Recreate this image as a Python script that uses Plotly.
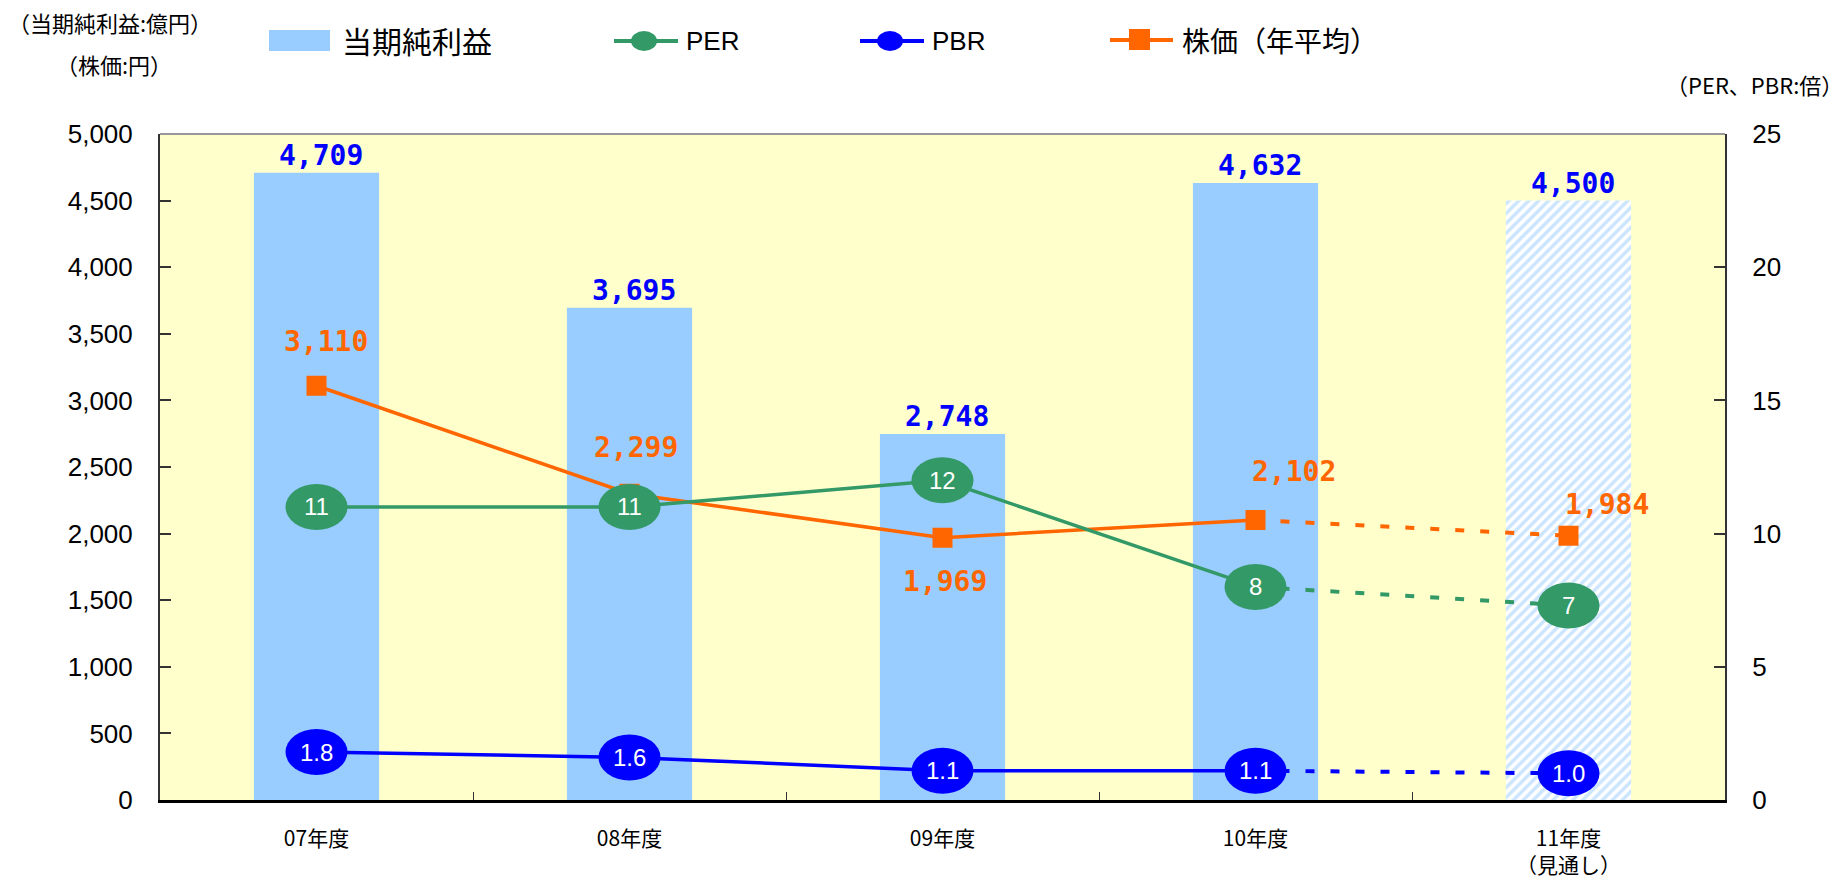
import plotly.graph_objects as go

# ---- data -------------------------------------------------------------
years = ["07年度", "08年度", "09年度", "10年度", "11年度<br>（見通し）"]
net_income = [4709, 3695, 2748, 4632, 4500]      # 当期純利益 (億円)
per = [11, 11, 12, 8, 7.3]                       # PER (倍)
pbr = [1.8, 1.6, 1.1, 1.1, 1.0]                  # PBR (倍)
stock_price = [3110, 2299, 1969, 2102, 1984]     # 株価 年平均 (円)
is_forecast = [False, False, False, False, True]

# ---- styling ----------------------------------------------------------
C_BAR = "#99CCFF"
C_PER = "#339966"
C_PBR = "#0000FF"
C_STOCK = "#FF6600"
C_BG = "#FFFFCC"
CJK = "Noto Sans CJK JP, sans-serif"
SANS = "Liberation Sans, Arial, sans-serif"
MONO = "DejaVu Sans Mono, monospace"

W, H = 1845, 882
ML, MR, MT, MB = 160, 120, 134, 82
PW, PH = W - ML - MR, H - MT - MB

# stock-price label offsets (px) relative to each marker
stock_label_shift = [(9, 44), (6, 46), (2, -44), (38, 49), (38, 31)]


def px(x):
    return (x - ML) / PW


def py(y):
    return (H - MB - y) / PH


last_actual = is_forecast.index(True) - 1
solid = slice(0, last_actual + 1)
dashed = slice(last_actual, len(years))
DASH = "9px,16px"

fig = go.Figure()

fig.add_trace(go.Bar(
    x=years, y=net_income, width=0.4, yaxis="y",
    marker=dict(
        color=C_BAR, line=dict(width=0),
        pattern=dict(shape=["/" if f else "" for f in is_forecast],
                     fgcolor=C_BAR, bgcolor="white", size=7, solidity=0.5),
    ),
    showlegend=False, hoverinfo="skip",
))

for vals, color, axis in [(per, C_PER, "y2"), (pbr, C_PBR, "y2")]:
    fig.add_trace(go.Scatter(x=years[solid], y=vals[solid], yaxis=axis, mode="lines",
                             line=dict(color=color, width=3.5),
                             showlegend=False, hoverinfo="skip"))
    fig.add_trace(go.Scatter(x=years[dashed], y=vals[dashed], yaxis=axis, mode="lines",
                             line=dict(color=color, width=4, dash=DASH),
                             showlegend=False, hoverinfo="skip"))

fig.add_trace(go.Scatter(x=years[solid], y=stock_price[solid], mode="lines",
                         line=dict(color=C_STOCK, width=3.5),
                         showlegend=False, hoverinfo="skip"))
fig.add_trace(go.Scatter(x=years[dashed], y=stock_price[dashed], mode="lines",
                         line=dict(color=C_STOCK, width=4, dash=DASH),
                         showlegend=False, hoverinfo="skip"))
fig.add_trace(go.Scatter(x=years, y=stock_price, mode="markers",
                         marker=dict(symbol="square", size=20, color=C_STOCK,
                                     line=dict(width=0)),
                         showlegend=False, hoverinfo="skip"))

shapes = []
annotations = []

# oval data labels for PER / PBR
for vals, color, fmt in [(per, C_PER, "{:.0f}"), (pbr, C_PBR, "{:.1f}")]:
    for i, v in enumerate(vals):
        shapes.append(dict(type="circle", xref="x", yref="y2",
                           xsizemode="pixel", ysizemode="pixel",
                           xanchor=i, yanchor=v, x0=-31, x1=31, y0=-23, y1=23,
                           fillcolor=color, line=dict(width=0), layer="above"))
        annotations.append(dict(x=years[i], y=v, xref="x", yref="y2",
                                text=fmt.format(v), showarrow=False,
                                font=dict(family=SANS, size=24, color="white")))

# net income labels above the bars
for i, v in enumerate(net_income):
    annotations.append(dict(x=years[i], y=v, xref="x", yref="y",
                            text=f"{v:,}", showarrow=False, yanchor="bottom",
                            xshift=4, yshift=-1,
                            font=dict(family=MONO, size=28, color=C_PBR, weight="bold")))

# stock price labels
for i, v in enumerate(stock_price):
    dx, dy = stock_label_shift[i]
    annotations.append(dict(x=years[i], y=v, xref="x", yref="y",
                            text=f"{v:,}", showarrow=False,
                            xshift=dx, yshift=dy,
                            font=dict(family=MONO, size=28, color=C_STOCK, weight="bold")))

# unit captions
annotations += [
    dict(x=px(6), y=py(22), xref="paper", yref="paper", xanchor="left", yanchor="middle",
         text="（当期純利益:億円）", showarrow=False, font=dict(family=CJK, size=22, color="black")),
    dict(x=px(54), y=py(64), xref="paper", yref="paper", xanchor="left", yanchor="middle",
         text="（株価:円）", showarrow=False, font=dict(family=CJK, size=22, color="black")),
    dict(x=px(1845), y=py(84), xref="paper", yref="paper", xanchor="right", yanchor="middle",
         text="（PER、PBR:倍）", showarrow=False, font=dict(family=CJK, size=22, color="black")),
]

# legend (drawn by hand)
LY = 40
shapes.append(dict(type="rect", xref="paper", yref="paper",
                   x0=px(269), x1=px(330), y0=py(51), y1=py(30),
                   fillcolor=C_BAR, line=dict(width=0)))
annotations.append(dict(x=px(340), y=py(LY), xref="paper", yref="paper",
                        xanchor="left", yanchor="middle", text="当期純利益",
                        showarrow=False, font=dict(family=CJK, size=30, color="black")))
for x0, color, label in [(614, C_PER, "PER"), (860, C_PBR, "PBR")]:
    shapes.append(dict(type="line", xref="paper", yref="paper",
                       x0=px(x0), x1=px(x0 + 64), y0=py(LY + 1), y1=py(LY + 1),
                       line=dict(color=color, width=4)))
    shapes.append(dict(type="circle", xref="paper", yref="paper",
                       xsizemode="pixel", ysizemode="pixel",
                       xanchor=px(x0 + 30), yanchor=py(LY + 1),
                       x0=-13, x1=13, y0=-10, y1=10,
                       fillcolor=color, line=dict(width=0)))
    annotations.append(dict(x=px(x0 + 70), y=py(LY + 1), xref="paper", yref="paper",
                            xanchor="left", yanchor="middle", text=label,
                            showarrow=False, font=dict(family=SANS, size=26, color="black")))
shapes.append(dict(type="line", xref="paper", yref="paper",
                   x0=px(1110), x1=px(1173), y0=py(LY), y1=py(LY),
                   line=dict(color=C_STOCK, width=4)))
shapes.append(dict(type="rect", xref="paper", yref="paper",
                   x0=px(1129), x1=px(1150), y0=py(50), y1=py(29),
                   fillcolor=C_STOCK, line=dict(width=0)))
annotations.append(dict(x=px(1180), y=py(LY), xref="paper", yref="paper",
                        xanchor="left", yanchor="middle", text="株価（年平均）",
                        showarrow=False, font=dict(family=CJK, size=28, color="black")))

# grey top border of the plot area
shapes.append(dict(type="line", xref="paper", yref="paper", x0=0, x1=1, y0=1, y1=1,
                   line=dict(color="#999999", width=2), layer="above"))

fig.update_layout(
    width=W, height=H,
    margin=dict(l=ML, r=MR, t=MT, b=MB, pad=0, autoexpand=False),
    paper_bgcolor="white", plot_bgcolor=C_BG,
    showlegend=False,
    bargap=0.6,
    xaxis=dict(type="category", categoryorder="array", categoryarray=years,
               range=[-0.5, len(years) - 0.5], automargin=False,
               showline=True, linecolor="black", linewidth=2.5,
               ticks="inside", tickson="boundaries", ticklen=8, tickcolor="#333333",
               tickwidth=1, showgrid=False, zeroline=False,
               tickfont=dict(family=CJK, size=21, color="black"),
               ticklabelstandoff=18),
    yaxis=dict(range=[0, 5000], dtick=500, tickformat=",", automargin=False,
               showline=True, linecolor="#333333", linewidth=2,
               ticks="inside", ticklen=11, tickcolor="#333333", tickwidth=1.5,
               showgrid=False, zeroline=False,
               tickfont=dict(family=SANS, size=26, color="black"),
               ticklabelstandoff=20),
    yaxis2=dict(range=[0, 25], dtick=5, overlaying="y", side="right", automargin=False,
                showline=True, linecolor="#333333", linewidth=2,
                ticks="inside", ticklen=11, tickcolor="#333333", tickwidth=1.5,
                showgrid=False, zeroline=False,
                tickfont=dict(family=SANS, size=26, color="black"),
                ticklabelstandoff=20),
    shapes=shapes,
    annotations=annotations,
)

fig.write_html("out.html")
